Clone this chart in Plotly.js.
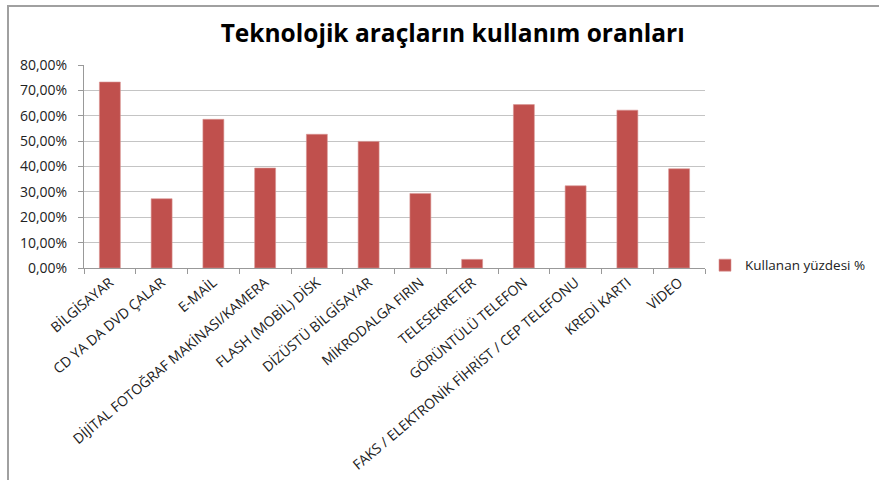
<!DOCTYPE html>
<html>
<head>
<meta charset="utf-8">
<script src="https://cdn.plot.ly/plotly-3.0.1.min.js"></script>
<style>
html,body{margin:0;padding:0;background:#fff;}
#wrap{position:relative;width:879px;height:480px;overflow:hidden;}
#frame{position:absolute;left:7px;top:5px;right:-5px;bottom:-5px;border-top:2px solid #a0a0a0;border-left:2px solid #a0a0a0;pointer-events:none;z-index:5;}
#chart{position:absolute;left:0;top:0;width:879px;height:480px;}
</style>
</head>
<body>
<div id="wrap">
<div id="chart"></div>
<div id="frame"></div>
</div>
<script>
var categories = [
  "BİLGİSAYAR",
  "CD YA DA DVD ÇALAR",
  "E-MAİL",
  "DİJİTAL FOTOĞRAF MAKİNASI/KAMERA",
  "FLASH (MOBİL) DİSK",
  "DİZÜSTÜ BİLGİSAYAR",
  "MİKRODALGA FIRIN",
  "TELESEKRETER",
  "GÖRÜNTÜLÜ TELEFON",
  "FAKS / ELEKTRONİK FİHRİST / CEP TELEFONU",
  "KREDİ KARTI",
  "VİDEO"
];
var usagePercent = [0.733, 0.273, 0.586, 0.394, 0.527, 0.499, 0.294, 0.034, 0.644, 0.324, 0.622, 0.391];
var seriesName = "Kullanan yüzdesi %";
var yTickValues = [0, 0.1, 0.2, 0.3, 0.4, 0.5, 0.6, 0.7, 0.8];

var trace = {
  type: "bar",
  x: categories,
  y: usagePercent,
  name: seriesName,
  marker: {color: "#C0504D", line: {color: "#D99694", width: 0.6}},
  showlegend: true,
  hoverinfo: "x+y"
};

var FONT = "Open Sans, Noto Sans, sans-serif";

var layout = {
  width: 879,
  height: 480,
  margin: {l: 84, r: 174, t: 65, b: 212, pad: 0, autoexpand: false},
  paper_bgcolor: "#ffffff",
  plot_bgcolor: "#ffffff",
  separators: ",.",
  bargap: 0.595,
  showlegend: true,
  font: {family: FONT, color: "#222"},
  title: {
    text: "<b>Teknolojik araçların kullanım oranları</b>",
    font: {family: FONT, size: 24.5, color: "#000"},
    x: 0.515, xanchor: "center",
    y: 0.93, yanchor: "middle"
  },
  xaxis: {
    type: "category",
    tickangle: -40,
    tickson: "boundaries",
    ticks: "outside",
    ticklen: 5,
    tickcolor: "#999",
    showline: true,
    linecolor: "#999",
    linewidth: 1,
    showgrid: false,
    tickfont: {family: FONT, size: 14, color: "#222"},
    automargin: false
  },
  yaxis: {
    range: [0, 0.8],
    tickvals: yTickValues,
    tickformat: ".2%",
    ticks: "outside",
    ticklen: 5,
    tickcolor: "#999",
    ticklabelstandoff: 8,
    showline: true,
    linecolor: "#999",
    linewidth: 1,
    showgrid: true,
    gridcolor: "#c4c4c4",
    gridwidth: 1,
    zeroline: false,
    tickfont: {family: FONT, size: 14, color: "#222"},
    automargin: false
  },
  legend: {
    x: 1.0, xanchor: "left",
    y: 0.013, yanchor: "middle",
    font: {family: FONT, size: 13.5, color: "#222"},
    bgcolor: "rgba(0,0,0,0)",
    itemwidth: 30
  }
};

Plotly.newPlot("chart", [trace], layout, {displayModeBar: false, staticPlot: true});
</script>
</body>
</html>
